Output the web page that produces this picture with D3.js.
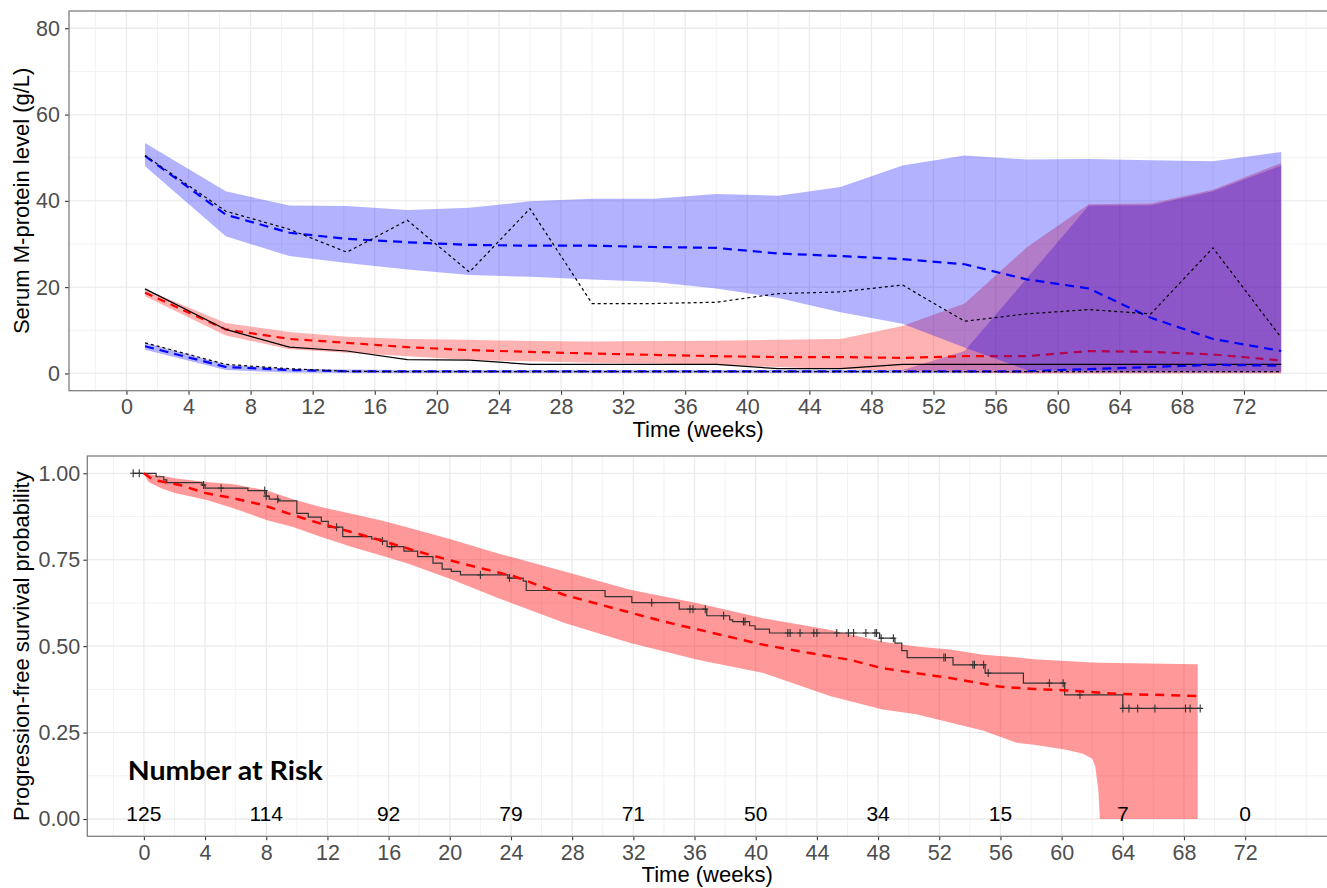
<!DOCTYPE html>
<html>
<head>
<meta charset="utf-8">
<script src="https://cdn.jsdelivr.net/npm/d3@7"></script>
<style>
body { margin: 0; background: #fff; }
svg { display: block; font-family: "Liberation Sans", Arial, sans-serif; }
</style>
</head>
<body>
<script>
// ---------- top panel: serum M-protein (g/L) ----------
var weeksTop = [1.2, 6.4, 10.5, 14.2, 18.1, 22.1, 26.0, 30.0, 34.0, 38.0, 42.0, 46.0, 50.0, 54.0, 58.0, 62.0, 66.0, 70.0, 74.4];

// high baseline group (blue)
var hiUpper    = [53.4, 42.2, 38.9, 38.8, 37.9, 38.4, 39.9, 40.5, 40.5, 41.6, 41.2, 43.2, 48.2, 50.5, 49.6, 49.7, 49.4, 49.2, 51.3];
var hiLower    = [48.0, 31.8, 27.2, 25.6, 24.1, 22.8, 22.4, 21.8, 21.2, 19.7, 17.5, 14.2, 11.5, 6.0, 0.8, 0.5, 0.5, 0.5, 0.5];
var hiMedian   = [50.4, 36.8, 32.6, 31.2, 30.4, 29.8, 29.6, 29.6, 29.3, 29.1, 27.8, 27.2, 26.5, 25.3, 21.8, 19.7, 12.9, 8.0, 5.2];
var hiObserved = [50.5, 37.6, 33.4, 28.1, 35.5, 23.5, 38.2, 16.2, 16.2, 16.5, 18.5, 18.9, 20.5, 12.1, 13.8, 14.8, 13.8, 29.1, 8.3];

// middle baseline group (red)
var midUpper    = [19.5, 11.7, 9.6, 8.5, 8.0, 7.8, 7.5, 7.4, 7.5, 7.6, 7.8, 8.0, 11.0, 16.2, 29.2, 39.2, 39.4, 42.6, 48.8];
var midLower    = [17.9, 8.8, 5.6, 4.8, 4.0, 3.1, 2.8, 2.5, 2.3, 2.0, 1.5, 1.0, 0.6, 0.2, 0, 0, 0, 0, 0];
var midMedian   = [18.7, 10.2, 8.0, 7.1, 6.1, 5.4, 5.0, 4.6, 4.3, 4.0, 3.8, 3.8, 3.6, 4.0, 4.0, 5.2, 5.0, 4.4, 3.0];
var midObserved = [19.6, 10.2, 6.1, 5.2, 3.2, 3.1, 2.1, 2.1, 2.1, 2.1, 1.1, 1.1, 2.1, 2.1, 2.1, 2.1, 2.1, 2.1, 2.1];

// low baseline group (blue)
var loUpper    = [7.1, 2.1, 1.1, 0.9, 0.8, 0.8, 0.8, 0.8, 0.8, 0.8, 0.8, 0.8, 0.8, 5.2, 22.0, 38.9, 39.0, 42.2, 48.2];
var loLower    = [5.5, 0.8, 0.2, 0.1, 0.1, 0.1, 0.1, 0.1, 0.1, 0.1, 0.1, 0.1, 0.1, 0.1, 0.1, 0.1, 0.1, 0.1, 0.1];
var loMedian   = [6.3, 1.5, 0.8, 0.5, 0.5, 0.5, 0.5, 0.5, 0.5, 0.5, 0.5, 0.5, 0.5, 0.5, 0.5, 1.0, 1.5, 2.0, 1.8];
var loObserved = [7.1, 2.1, 1.1, 0.5, 0.4, 0.4, 0.4, 0.4, 0.4, 0.4, 0.4, 0.4, 0.4, 0.4, 0.4, 0.4, 0.4, 0.4, 0.4];

// ---------- bottom panel: progression-free survival ----------
// Kaplan-Meier steps (observed)
var kmWeeks = [-0.7, 0.8, 1.3, 1.5, 3.8, 4.0, 6.8, 8.0, 8.2, 8.8, 10.0, 10.75, 11.6, 12.05, 13.0, 14.9, 15.5, 15.9, 17.0, 17.9, 18.9, 19.5, 20.1, 20.7, 23.8, 24.8, 25.0, 30.15, 31.9, 35.0, 36.8, 38.3, 38.5, 39.6, 39.96, 40.9, 48.1, 49.1, 49.55, 49.9, 52.9, 55.0, 57.5, 60.2, 64.0, 69.06];
var kmSurv  = [1.0, 0.99, 0.981, 0.973, 0.966, 0.957, 0.95, 0.934, 0.925, 0.92, 0.884, 0.873, 0.861, 0.844, 0.817, 0.81, 0.804, 0.788, 0.775, 0.759, 0.74, 0.723, 0.716, 0.706, 0.697, 0.688, 0.661, 0.643, 0.626, 0.607, 0.588, 0.576, 0.571, 0.559, 0.549, 0.538, 0.523, 0.509, 0.487, 0.467, 0.446, 0.422, 0.393, 0.359, 0.32, 0.32];
var censorWeeks = [-0.7, -0.3, 3.9, 5.05, 7.9, 8.0, 8.75, 12.6, 15.6, 16.2, 22.0, 23.9, 33.2, 35.7, 35.9, 36.7, 37.9, 39.2, 39.3, 42.1, 42.25, 42.9, 43.8, 44.0, 45.3, 46.06, 46.4, 47.2, 47.8, 47.9, 48.2, 49.0, 52.3, 52.4, 54.2, 54.3, 54.9, 55.2, 59.2, 60.1, 61.2, 64.0, 64.4, 64.97, 66.1, 68.1, 68.4, 69.06];

// model prediction (median + interval)
var predWeeks  = [0, 0.6, 2.35, 4.1, 5.85, 7.8, 9.77, 11.5, 13.5, 15.4, 17.2, 18.7, 20.9, 24.2, 27.5, 30.7, 34.0, 37.2, 40.5, 43.8, 46.2, 48.3, 52.7, 55.9, 58.2, 60.3, 63.6, 68.9];
var predMedian = [1.0, 0.981, 0.966, 0.942, 0.928, 0.908, 0.879, 0.855, 0.831, 0.807, 0.783, 0.764, 0.738, 0.702, 0.648, 0.61, 0.571, 0.538, 0.504, 0.478, 0.46, 0.436, 0.408, 0.383, 0.376, 0.372, 0.362, 0.356];

var bandWeeks = [0, 0.3, 1.2, 2.1, 4.1, 5.85, 8.0, 9.8, 11.5, 13.5, 15.4, 17.2, 20.0, 23.1, 27.5, 31.8, 36.2, 40.5, 44.9, 48.3, 50.5, 52.7, 54.9, 57.0, 58.2, 60.3, 61.4, 62.0, 62.2, 62.4, 62.5, 65.7, 68.9];
var bandUpper = [1.0, 0.998, 0.992, 0.985, 0.975, 0.968, 0.951, 0.924, 0.903, 0.884, 0.865, 0.844, 0.81, 0.769, 0.716, 0.663, 0.624, 0.581, 0.547, 0.513, 0.499, 0.49, 0.475, 0.468, 0.462, 0.457, 0.454, 0.453, 0.453, 0.452, 0.452, 0.45, 0.448];
var bandLower = [1.0, 0.975, 0.955, 0.942, 0.923, 0.899, 0.865, 0.844, 0.817, 0.788, 0.764, 0.74, 0.695, 0.64, 0.567, 0.509, 0.461, 0.422, 0.355, 0.317, 0.303, 0.279, 0.255, 0.221, 0.215, 0.2, 0.189, 0.174, 0.152, 0.085, 0, 0, 0];

// number at risk
var riskWeeks  = [0, 8, 16, 24, 32, 40, 48, 56, 64, 72];
var riskCounts = [125, 114, 92, 79, 71, 50, 34, 15, 7, 0];

// ticks
var xTickValues   = [0, 4, 8, 12, 16, 20, 24, 28, 32, 36, 40, 44, 48, 52, 56, 60, 64, 68, 72];
var xMinorValues  = [-2, 2, 6, 10, 14, 18, 22, 26, 30, 34, 38, 42, 46, 50, 54, 58, 62, 66, 70, 74, 76];
var yTicksTop     = [0, 20, 40, 60, 80];
var yMinorTop     = [10, 30, 50, 70];
var yTicksBottom  = [0, 0.25, 0.5, 0.75, 1.0];
var yMinorBottom  = [0.125, 0.375, 0.625, 0.875];

var W = 1327, H = 888;
var svg = d3.select("body").append("svg").attr("width", W).attr("height", H);

var xDomain = [-3.7, 77.35];

var boxTop = {left: 69, right: 1327, top: 11, bottom: 390.7};
var boxBot = {left: 87.3, right: 1327, top: 456, bottom: 836.3};

var x1 = d3.scaleLinear().domain(xDomain).range([boxTop.left, boxTop.right]);
var y1 = d3.scaleLinear().domain([-4, 84]).range([boxTop.bottom, boxTop.top]);
var x2 = d3.scaleLinear().domain(xDomain).range([boxBot.left, boxBot.right]);
var y2 = d3.scaleLinear().domain([-0.05, 1.05]).range([boxBot.bottom, boxBot.top]);

function drawFrame(id, box, x, y, xMinor, yMajor, yMinor, yFormat, yPad) {
  var g = svg.append("g");
  // clip
  svg.append("clipPath").attr("id", id)
    .append("rect").attr("x", box.left).attr("y", box.top)
    .attr("width", box.right - box.left + 2).attr("height", box.bottom - box.top);

  var grid = g.append("g").attr("clip-path", "url(#" + id + ")");
  grid.selectAll(".vminor").data(xMinor).enter().append("line")
    .attr("x1", function(d) { return x(d); }).attr("x2", function(d) { return x(d); })
    .attr("y1", box.top).attr("y2", box.bottom)
    .attr("stroke", "#f2f2f2").attr("stroke-width", 1);
  grid.selectAll(".hminor").data(yMinor).enter().append("line")
    .attr("y1", function(d) { return y(d); }).attr("y2", function(d) { return y(d); })
    .attr("x1", box.left).attr("x2", box.right)
    .attr("stroke", "#f2f2f2").attr("stroke-width", 1);
  grid.selectAll(".vmajor").data(xTickValues).enter().append("line")
    .attr("x1", function(d) { return x(d); }).attr("x2", function(d) { return x(d); })
    .attr("y1", box.top).attr("y2", box.bottom)
    .attr("stroke", "#ebebeb").attr("stroke-width", 1.3);
  grid.selectAll(".hmajor").data(yMajor).enter().append("line")
    .attr("y1", function(d) { return y(d); }).attr("y2", function(d) { return y(d); })
    .attr("x1", box.left).attr("x2", box.right)
    .attr("stroke", "#ebebeb").attr("stroke-width", 1.3);

  var xAxis = d3.axisBottom(x).tickValues(xTickValues).tickSize(4).tickPadding(4);
  var ax = svg.append("g").attr("transform", "translate(0," + box.bottom + ")").call(xAxis);
  var yAxis = d3.axisLeft(y).tickValues(yMajor).tickFormat(yFormat).tickSize(4).tickPadding(yPad);
  var ay = svg.append("g").attr("transform", "translate(" + box.left + ",0)").call(yAxis);
  [ax, ay].forEach(function(a) {
    a.select(".domain").remove();
    a.selectAll(".tick line").attr("stroke", "#333333").attr("stroke-width", 1.1);
    a.selectAll(".tick text").attr("fill", "#4d4d4d")
      .style("font-size", "21.5px").style("font-family", "'Liberation Sans', Arial, sans-serif");
  });
  return g;
}

function drawBorder(box) {
  svg.append("rect").attr("x", box.left).attr("y", box.top)
    .attr("width", box.right - box.left + 4).attr("height", box.bottom - box.top)
    .attr("fill", "none").attr("stroke", "#7f7f7f").attr("stroke-width", 1.3);
}

// ================= top panel =================
drawFrame("clipTop", boxTop, x1, y1, xMinorValues, yTicksTop, yMinorTop, d3.format("d"), 5);

var pTop = svg.append("g").attr("clip-path", "url(#clipTop)");

function band(upper, lower) {
  return d3.area()
    .x(function(d, i) { return x1(weeksTop[i]); })
    .y0(function(d, i) { return y1(lower[i]); })
    .y1(function(d, i) { return y1(upper[i]); })(weeksTop);
}
function series(vals) {
  return d3.line()
    .x(function(d, i) { return x1(weeksTop[i]); })
    .y(function(d) { return y1(d); })(vals);
}

// layer order: low band, red band + median, high band over them
pTop.append("path").attr("d", band(loUpper, loLower))
  .attr("fill", "blue").attr("fill-opacity", 0.3);
pTop.append("path").attr("d", band(midUpper, midLower))
  .attr("fill", "red").attr("fill-opacity", 0.3);
pTop.append("path").attr("d", series(midMedian))
  .attr("fill", "none").attr("stroke", "red").attr("stroke-width", 2.2).attr("stroke-dasharray", "8,6");
pTop.append("path").attr("d", band(hiUpper, hiLower))
  .attr("fill", "blue").attr("fill-opacity", 0.3);

pTop.append("path").attr("d", series(midObserved))
  .attr("fill", "none").attr("stroke", "black").attr("stroke-width", 1.2);

pTop.append("path").attr("d", series(hiMedian))
  .attr("fill", "none").attr("stroke", "blue").attr("stroke-width", 2.2).attr("stroke-dasharray", "9,6");
pTop.append("path").attr("d", series(loMedian))
  .attr("fill", "none").attr("stroke", "blue").attr("stroke-width", 2.2).attr("stroke-dasharray", "9,6");

pTop.append("path").attr("d", series(hiObserved))
  .attr("fill", "none").attr("stroke", "black").attr("stroke-width", 1.2).attr("stroke-dasharray", "3,3");
pTop.append("path").attr("d", series(loObserved))
  .attr("fill", "none").attr("stroke", "black").attr("stroke-width", 1.2).attr("stroke-dasharray", "3,3");

drawBorder(boxTop);

svg.append("text").attr("x", (boxTop.left + boxTop.right) / 2).attr("y", 436.5)
  .attr("text-anchor", "middle").style("font-size", "22px").attr("fill", "black")
  .text("Time (weeks)");
svg.append("text").attr("transform", "translate(29," + ((boxTop.top + boxTop.bottom) / 2) + ") rotate(-90)")
  .attr("text-anchor", "middle").style("font-size", "22px").attr("fill", "black")
  .text("Serum M-protein level (g/L)");

// ================= bottom panel =================
drawFrame("clipBot", boxBot, x2, y2, xMinorValues, yTicksBottom, yMinorBottom, d3.format(".2f"), 3);

var pBot = svg.append("g").attr("clip-path", "url(#clipBot)");

pBot.append("path")
  .attr("d", d3.area()
    .x(function(d, i) { return x2(bandWeeks[i]); })
    .y0(function(d, i) { return y2(bandLower[i]); })
    .y1(function(d, i) { return y2(bandUpper[i]); })(bandWeeks))
  .attr("fill", "red").attr("fill-opacity", 0.4);

pBot.append("path")
  .attr("d", d3.line().curve(d3.curveStepAfter)
    .x(function(d, i) { return x2(kmWeeks[i]); })
    .y(function(d) { return y2(d); })(kmSurv))
  .attr("fill", "none").attr("stroke", "#333333").attr("stroke-width", 1.2);

function survAt(t) {
  var i = d3.bisectRight(kmWeeks, t) - 1;
  return kmSurv[Math.max(i, 0)];
}
pBot.selectAll(".censor").data(censorWeeks).enter().append("path")
  .attr("d", function(d) {
    var cx = x2(d), cy = y2(survAt(d));
    return "M" + cx + "," + (cy - 4) + "V" + (cy + 4) + "M" + (cx - 3) + "," + cy + "H" + (cx + 3);
  })
  .attr("stroke", "#333333").attr("stroke-width", 1.1).attr("fill", "none");

pBot.append("path")
  .attr("d", d3.line()
    .x(function(d, i) { return x2(predWeeks[i]); })
    .y(function(d) { return y2(d); })(predMedian))
  .attr("fill", "none").attr("stroke", "red").attr("stroke-width", 2.5).attr("stroke-dasharray", "9,7");

// number at risk
svg.append("text").attr("x", 127.7).attr("y", 780)
  .style("font-family", "Lato, 'Open Sans', sans-serif").style("font-weight", 700).style("font-size", "27px")
  .attr("textLength", 195).attr("lengthAdjust", "spacingAndGlyphs")
  .attr("fill", "black").text("Number at Risk");

svg.selectAll(".risk").data(riskCounts).enter().append("text")
  .attr("x", function(d, i) { return x2(riskWeeks[i]); })
  .attr("y", y2(0) + 1.7)
  .attr("text-anchor", "middle").style("font-size", "21px").attr("fill", "black")
  .text(function(d) { return d; });

drawBorder(boxBot);

svg.append("text").attr("x", (boxBot.left + boxBot.right) / 2).attr("y", 882)
  .attr("text-anchor", "middle").style("font-size", "22px").attr("fill", "black")
  .text("Time (weeks)");
svg.append("text").attr("transform", "translate(29," + ((boxBot.top + boxBot.bottom) / 2) + ") rotate(-90)")
  .attr("text-anchor", "middle").style("font-size", "22px").attr("fill", "black")
  .text("Progression-free survival probability");
</script>
</body>
</html>
